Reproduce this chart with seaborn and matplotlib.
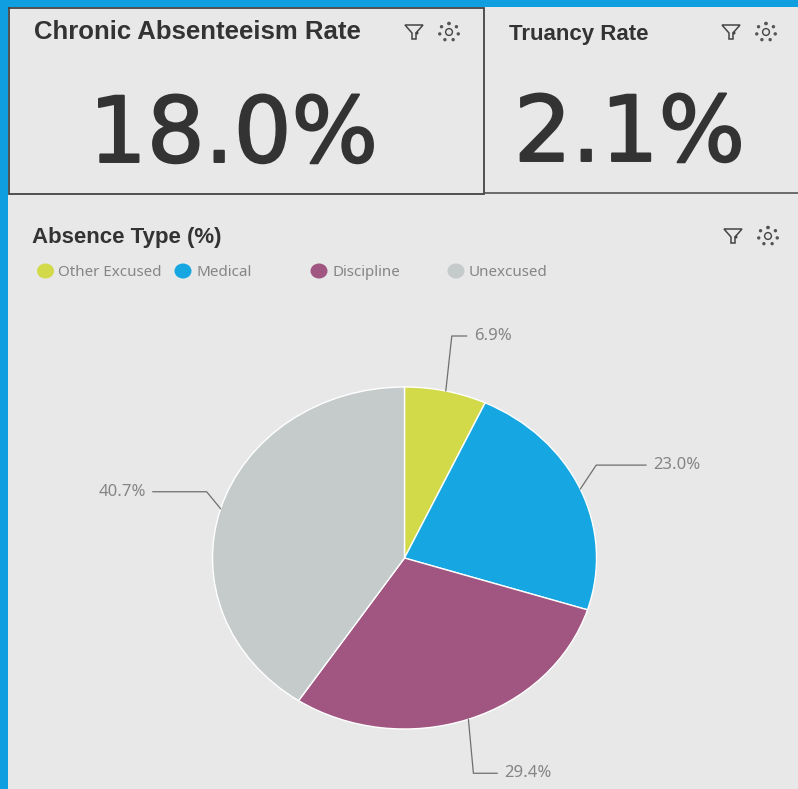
import numpy as np
import matplotlib
matplotlib.use("Agg")
import matplotlib.pyplot as plt
import matplotlib.patheffects as pe
from matplotlib.patches import Ellipse, Rectangle, Polygon, Circle
import seaborn as sns

# ---- data ----
categories = ["Other Excused", "Medical", "Discipline", "Unexcused"]
shares = [6.9, 23.0, 29.4, 40.7]
kpi_titles = ["Chronic Absenteeism Rate", "Truancy Rate"]
kpi_values = ["18.0%", "2.1%"]
chart_title = "Absence Type (%)"
hex_colors = ["#d2da4a", "#16a6e1", "#a15681", "#c5cbcb"]

BG = "#e8e8e8"
BLUE = "#0f9fe0"
DARK = "#333333"
GREY = "#858585"

sns.set_theme(style="white", rc={"figure.facecolor": BG, "axes.facecolor": "none"})
plt.rcParams["font.family"] = ["Noto Sans", "DejaVu Sans"]
palette = sns.color_palette(hex_colors)

W, H = 798, 789
fig = plt.figure(figsize=(W / 100, H / 100), dpi=100, facecolor=BG)

ov = fig.add_axes([0, 0, 1, 1])
ov.set_xlim(0, W)
ov.set_ylim(H, 0)
ov.axis("off")

ov.add_patch(Rectangle((0, 0), W, 7, color=BLUE, lw=0))
ov.add_patch(Rectangle((0, 0), 8, H, color=BLUE, lw=0))
ov.plot([9, 9, 484, 484, 9], [8, 194, 194, 8, 8], color="#444444", lw=1.3, solid_joinstyle="miter")
ov.plot([485, W], [192.5, 192.5], color="#555555", lw=1.2)


def icons(fx, gx, y):
    ov.add_patch(Polygon([(fx - 9, y - 7), (fx + 9, y - 7), (fx + 2, y + 1), (fx + 2, y + 7),
                          (fx - 2, y + 7), (fx - 2, y + 1)], closed=True, fill=False,
                         ec="#444444", lw=1.1))
    ov.add_patch(Circle((fx + 3, y + 1), 1.5, color="#444444", lw=0))
    ov.add_patch(Circle((gx, y), 3.4, fill=False, ec="#444444", lw=1.0))
    for a in np.arange(0, 360, 51.4):
        ov.add_patch(Ellipse((gx + 9.5 * np.sin(np.radians(a)), y - 8.5 * np.cos(np.radians(a))),
                             3.4, 3.4, color="#555555", lw=0))


icons(414, 449, 32)
icons(731, 766, 32)
icons(733, 768, 236)

TITLE_FONT = ["Liberation Sans", "DejaVu Sans"]
ov.text(34, 38.5, kpi_titles[0], fontsize=18.5, fontweight="bold", family=TITLE_FONT,
        color=DARK, va="baseline", ha="left")
ov.text(509, 39.5, kpi_titles[1], fontsize=16, fontweight="bold", family=TITLE_FONT,
        color=DARK, va="baseline", ha="left")
heavy = [pe.withStroke(linewidth=1.4, foreground=DARK)]
ov.text(233.5, 162, kpi_values[0], fontsize=65.5, family="DejaVu Sans", color=DARK, va="baseline",
        ha="center", path_effects=heavy)
ov.text(629.5, 161, kpi_values[1], fontsize=65.5, family="DejaVu Sans", color=DARK, va="baseline",
        ha="center", path_effects=heavy)
ov.text(32, 243, chart_title, fontsize=16, fontweight="bold", family=TITLE_FONT,
        color=DARK, va="baseline", ha="left")

swatch_x = [45.5, 183, 319, 456]
label_x = [58, 196, 333, 469]
for c, name, sx, lx in zip(palette, categories, swatch_x, label_x):
    ov.add_patch(Ellipse((sx, 271), 17, 15, color=c, lw=0))
    ov.text(lx, 272, name, fontsize=10.9, color=GREY, va="center", ha="left")

cx, cy, rx, ry = 404.5, 558, 192, 171
ax_w, ax_h = rx * 2 * 1.25, ry * 2 * 1.25
ax = fig.add_axes([(cx - ax_w / 2) / W, 1 - (cy + ax_h / 2) / H, ax_w / W, ax_h / H])
wedges, _ = ax.pie(shares, colors=palette, startangle=90, counterclock=False,
                   wedgeprops={"edgecolor": "white", "linewidth": 1.0})
ax.set_aspect("auto")
ax.set_xlim(-1.25, 1.25)
ax.set_ylim(-1.25, 1.25)

elbow_px = [(6, 55), (16, 24), (5, -54), (-14, 17)]
run_px = [15, 50, 24, -54]
gap_px = 7
for w, v, (ex, ey), run in zip(wedges, shares, elbow_px, run_px):
    t = np.radians((w.theta1 + w.theta2) / 2)
    x0, y0 = np.cos(t), np.sin(t)
    x1, y1 = x0 + ex / rx, y0 + ey / ry
    x2 = x1 + run / rx
    ax.plot([x0, x1, x2], [y0, y1, y1], color="#6f6f6f", lw=0.9, clip_on=False)
    sign = 1 if run > 0 else -1
    ax.annotate(f"{v:.1f}%", (x2, y1), xytext=(sign * gap_px, 0), textcoords="offset pixels",
                ha="left" if sign > 0 else "right", va="center", fontsize=12, color=GREY,
                annotation_clip=False)

fig.savefig("out.png", dpi=100, facecolor=BG)
